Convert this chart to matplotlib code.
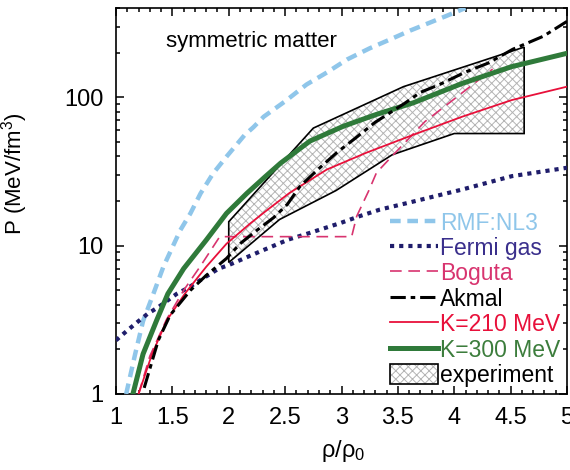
import numpy as np
import matplotlib
matplotlib.use("Agg")
import matplotlib.pyplot as plt
from matplotlib.ticker import MultipleLocator, NullFormatter, LogLocator
from matplotlib.patches import Polygon

plt.rcParams['font.family'] = ['Liberation Sans', 'DejaVu Sans']
plt.rcParams['mathtext.fontset'] = 'custom'
plt.rcParams['mathtext.rm'] = 'Liberation Sans'
plt.rcParams['mathtext.it'] = 'Liberation Sans:italic'
plt.rcParams['mathtext.default'] = 'regular'
plt.rcParams['hatch.linewidth'] = 0.7

# data (rho/rho0, P in MeV/fm^3)
rmf_rho = [1.09, 1.17, 1.24, 1.33, 1.42, 1.57, 1.66, 1.75, 1.86, 1.98, 2.14, 2.22, 2.31,
           2.50, 2.69, 2.87, 3.05, 3.25, 3.46, 3.61, 3.92, 4.10]
rmf_p = [1.0, 1.86, 3.1, 4.7, 7.2, 12.7, 16.5, 22.5, 30.6, 39.8, 55.6, 63, 74,
         94, 122, 147, 180, 214, 251, 282, 351, 400]

fermi_rho = [1.0, 1.1, 1.2, 1.28, 1.375, 1.54, 1.64, 1.80, 1.91, 2.0, 2.28, 2.53, 2.72,
             2.99, 3.16, 3.34, 3.61, 4.07, 4.51, 5.0]
fermi_p = [2.3, 2.68, 3.1, 3.47, 3.85, 4.74, 5.2, 6.2, 7.0, 7.4, 9.15, 11.0, 12.2,
           14.2, 15.8, 17.5, 19.6, 23.9, 29.4, 33.5]

boguta_rho = [1.20, 1.30, 1.45, 1.60, 1.75, 1.92, 3.09, 3.135, 3.24, 3.31, 3.46, 3.74,
              3.95, 4.14, 4.34]
boguta_p = [1.0, 1.8, 3.2, 5.0, 7.3, 11.5, 11.5, 15.8, 23.3, 31, 41, 68.6,
            91, 118, 155]

akmal_rho = [1.25, 1.375, 1.48, 1.66, 1.80, 1.98, 2.10, 2.25, 2.40, 2.52, 2.63, 2.79,
             2.96, 3.12, 3.30, 3.55, 3.70, 3.87, 4.10, 4.30, 4.52, 4.79, 5.0]
akmal_p = [1.1, 2.3, 3.4, 5.0, 6.3, 8.2, 10.3, 12.7, 15.5, 19, 25, 32.6,
           42.5, 52.8, 68, 90, 108, 122, 148, 170, 211, 258, 325]

k210_rho = [1.20, 1.32, 1.45, 1.61, 1.80, 1.98, 2.19, 2.32, 2.54, 2.87, 3.22, 3.64,
            4.07, 4.51, 5.0]
k210_p = [1.0, 1.86, 3.13, 4.74, 7.2, 10.3, 14.1, 16.9, 22.7, 32.6, 42.3, 56,
          74, 95.8, 118]

k300_rho = [1.15, 1.24, 1.36, 1.46, 1.60, 1.80, 1.98, 2.16, 2.32, 2.46, 2.72, 3.02,
            3.31, 3.64, 4.07, 4.51, 5.0]
k300_p = [1.0, 1.86, 3.13, 4.74, 7.0, 10.9, 16.5, 22.5, 29, 36, 50.7, 64,
          76.7, 92, 124, 161, 198]

# experimental region outline (lower edge then upper edge back)
exp_rho = [2.0, 2.45, 2.95, 3.45, 4.0, 4.62, 4.62, 3.55, 2.75, 2.0]
exp_p = [7.7, 15, 23.5, 41, 57, 57, 218, 118, 62, 14.5]

fig = plt.figure(figsize=(5.7, 4.7), dpi=100)
ax = fig.add_axes([116 / 570, 1 - 394 / 470, 451 / 570, 386 / 470])

pts = np.column_stack([exp_rho, exp_p])
fill = Polygon(pts, closed=True, facecolor='white', edgecolor='#b4b4b4',
               hatch='xxxx', linewidth=0, zorder=1)
outline = Polygon(pts, closed=True, fill=False, edgecolor='black',
                  linewidth=1.2, zorder=2)
ax.add_patch(fill)
ax.add_patch(outline)

c_rmf = '#8fc6ea'
c_fermi = '#1f1d6b'
c_bog = '#d8346f'
c_ak = 'black'
c_210 = '#e8103a'
c_300 = '#2f7a3a'

l1, = ax.plot(rmf_rho, rmf_p, color=c_rmf, lw=3.2, ls=(0, (2.4, 1.5)), zorder=3)
l2, = ax.plot(fermi_rho, fermi_p, color=c_fermi, lw=3.0, ls=(0, (1.0, 1.2)), zorder=3)
l3, = ax.plot(boguta_rho, boguta_p, color=c_bog, lw=1.2, ls=(0, (7, 4)), zorder=4)
l4, = ax.plot(akmal_rho, akmal_p, color=c_ak, lw=2.2, ls=(0, (5, 1.6, 1.5, 1.6)), zorder=5)
l5, = ax.plot(k210_rho, k210_p, color=c_210, lw=1.3, zorder=4)
l6, = ax.plot(k300_rho, k300_p, color=c_300, lw=3.6, zorder=4)

ax.set_yscale('log')
ax.set_xlim(1, 5)
ax.set_ylim(1, 400)

ax.set_xticks([1, 1.5, 2, 2.5, 3, 3.5, 4, 4.5, 5])
ax.set_xticklabels(['1', '1.5', '2', '2.5', '3', '3.5', '4', '4.5', '5'])
ax.xaxis.set_minor_locator(MultipleLocator(0.1))
ax.set_yticks([1, 10, 100])
ax.set_yticklabels(['1', '10', '100'])
ax.yaxis.set_minor_locator(LogLocator(base=10, subs=np.arange(2, 10)))
ax.yaxis.set_minor_formatter(NullFormatter())

ax.tick_params(which='both', direction='in', top=True, right=True, width=1.1)
ax.tick_params(which='major', length=5.5, labelsize=17, pad=9)
ax.tick_params(which='minor', length=3)
for s in ax.spines.values():
    s.set_linewidth(1.2)

ax.set_xlabel('ρ/ρ$_0$', fontsize=17)
ax.xaxis.set_label_coords(0.503, -0.115)
ax.set_ylabel('P (MeV/fm$^3$)', fontsize=16)
ax.yaxis.set_label_coords(-0.19, 0.57)

ax.text(0.111, 0.912, 'symmetric matter', transform=ax.transAxes,
        fontsize=16, va='center', ha='left')

handles = [l1, l2, l3, l4, l5, l6, (fill, outline)]
labels = ['RMF:NL3', 'Fermi gas', 'Boguta', 'Akmal', 'K=210 MeV', 'K=300 MeV', 'experiment']
colors = [c_rmf, '#3a2f8c', c_bog, 'black', c_210, '#3c7d3c', 'black']
leg = ax.legend(handles, labels, loc='lower right', bbox_to_anchor=(0.985, 0.018),
                frameon=False, fontsize=16.5, handlelength=2.1, handletextpad=0.1,
                handleheight=1.0, labelspacing=0.1, borderpad=0, borderaxespad=0)
for t, c in zip(leg.get_texts(), colors):
    t.set_color(c)

fig.savefig('out.png', dpi=100)
